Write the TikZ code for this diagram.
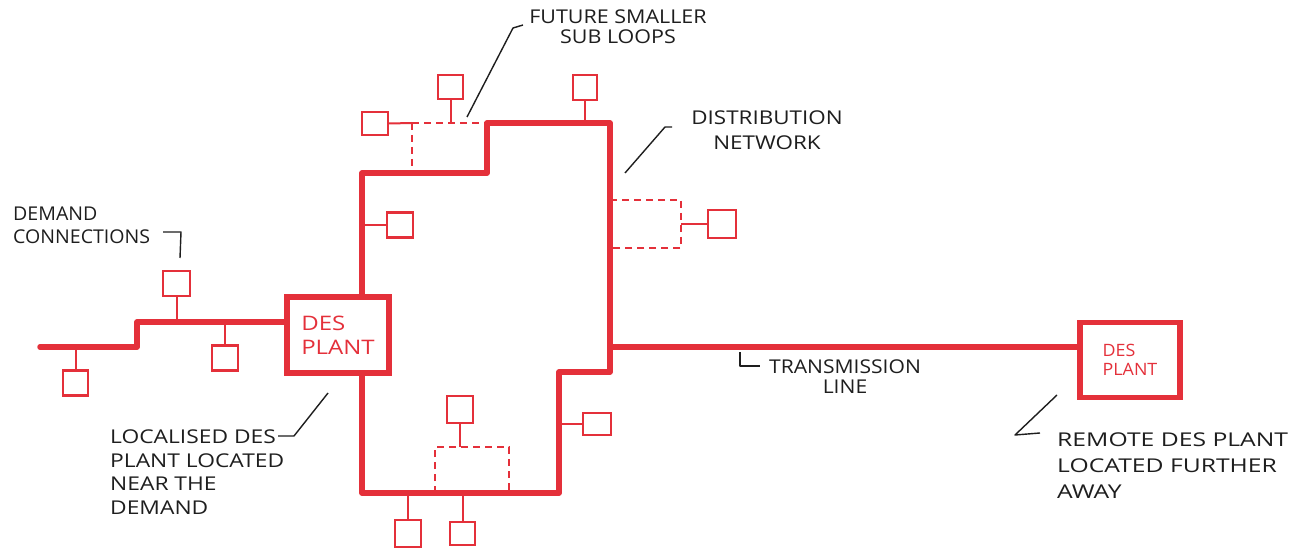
\documentclass[tikz,border=0pt]{standalone}
\usepackage{fontspec}
\setmainfont{Open Sans}
\definecolor{pen}{RGB}{228,48,58}
\definecolor{ink}{RGB}{30,30,30}
\newcommand{\strch}[1]{\addfontfeature{FakeStretch=#1}}
\tikzset{
 pipe/.style={draw=pen, line width=5.5pt, line cap=round, line join=round},
 stem/.style={draw=pen, line width=2pt},
 fut/.style={draw=pen, line width=2pt, dash pattern=on 7pt off 5pt},
 dbox/.style={draw=pen, line width=2.2pt, minimum width=26pt, minimum height=25pt, inner sep=0pt},
 plantbox/.style={draw=pen, line width=5.5pt, inner sep=0pt, fill=white, text=pen, align=left},
 lead/.style={draw=ink, line width=1.4pt, line join=round},
 lbl/.style={text=ink, inner sep=0pt},
}
\begin{document}
\begin{tikzpicture}[x=1pt,y=-1pt]
\fill[white] (0,0) rectangle (1296,553);
\useasboundingbox (0,0) rectangle (1296,553);

% plants
\node[plantbox, minimum width=102pt, minimum height=76pt, font=\fontsize{20}{24}\selectfont\strch{1.2}] (plant) at (338,335) {DES\\PLANT};
\node[plantbox, minimum width=100pt, minimum height=75pt, font=\fontsize{17}{19}\selectfont\strch{1.05}] (remote) at (1130,360) {DES\\PLANT};

% coordinates of the loop
\coordinate (lx) at (362,0);
\coordinate (a1) at (362,173);
\coordinate (a2) at (487,173);
\coordinate (a3) at (487,123);
\coordinate (a4) at (610,123);
\coordinate (tj) at (610,347);
\coordinate (a5) at (610,372);
\coordinate (a6) at (559,372);
\coordinate (a7) at (559,493);
\coordinate (a8) at (362,493);
\coordinate (f0) at (40,347);
\coordinate (f1) at (137,347);
\coordinate (f2) at (137,322);

% demand boxes
\node[dbox, minimum width=27pt] (dc1) at (176.5,283.5) {};
\node[dbox] (dc2) at (225,358) {};
\node[dbox, minimum width=25pt] (dc3) at (75.5,383) {};
\node[dbox] (lc1) at (400,225) {};
\node[dbox, minimum height=23pt] (tl) at (375,123.5) {};
\node[dbox, minimum width=25pt, minimum height=24pt] (tm) at (450.5,87) {};
\node[dbox, minimum width=24pt] (tr) at (585,87.5) {};
\node[dbox, minimum width=28pt, minimum height=28pt] (rb) at (722,224) {};
\node[dbox, minimum height=27pt] (bm) at (460,409.5) {};
\node[dbox, minimum height=27pt] (bb1) at (408,533.5) {};
\node[dbox, minimum width=25pt, minimum height=23pt] (bb2) at (462.5,533.5) {};
\node[dbox, minimum width=28pt, minimum height=22pt] (br) at (597,424) {};

% pipes
\draw[pipe] (plant.north -| lx) -- (a1) -- (a2) -- (a3) -- (a4) -- (a5) -- (a6) -- (a7) -- (a8) -- (plant.south -| lx);
\draw[pipe] (tj) -- (remote.west |- tj);
\draw[pipe] (f0) -- (f1) -- (f2) -- (plant.west |- f2);

% stems
\draw[stem] (dc1.south) -- (dc1.south |- f2);
\draw[stem] (dc2.north) -- (dc2.north |- f2);
\draw[stem] (dc3.north) -- (dc3.north |- f0);
\draw[stem] (lc1.west) -- (lc1.west -| lx);
\coordinate (s1) at (412,123);
\coordinate (s2) at (412,173);
\draw[stem] (tl.east) -- (s1);
\draw[fut] (s1) -- (a3);
\draw[fut] (s1) -- (s2);
\draw[stem] (tm.south) -- (tm.south |- s1);
\draw[stem] (tr.south) -- (tr.south |- a4);
\coordinate (r1) at (610,200);
\coordinate (r2) at (681,200);
\coordinate (r3) at (681,248);
\coordinate (r4) at (610,248);
\draw[fut] (r1) -- (r2) -- (r3) -- (r4);
\draw[stem] (rb.west) -- (rb.west -| r2);
\coordinate (b1) at (435,493);
\coordinate (b2) at (435,447);
\coordinate (b3) at (509,447);
\coordinate (b4) at (509,493);
\draw[fut] (b1) -- (b2) -- (b3) -- (b4);
\draw[stem] (bm.south) -- (bm.south |- b2);
\draw[stem] (bb1.north) -- (bb1.north |- a8);
\draw[stem] (bb2.north) -- (bb2.north |- a8);
\draw[stem] (br.west) -- (br.west -| a6);

% labels
\node[lbl, anchor=north west, align=left, font=\fontsize{19}{23}\selectfont\strch{1.03}] (tdem) at (13,207) {DEMAND\\CONNECTIONS};
\coordinate (d1) at (163,232);
\coordinate (d2) at (181,232);
\coordinate (d3) at (180,258);
\draw[lead] (d1) -- (d2) -- (d3);

\node[lbl, anchor=north, align=center, font=\fontsize{19}{20}\selectfont\strch{1.13}] (tfut) at (618,10) {FUTURE SMALLER\\SUB LOOPS};
\coordinate (u1) at (467,117);
\coordinate (u2) at (513,28);
\coordinate (u3) at (523,25);
\draw[lead] (u1) -- (u2) -- (u3);

\node[lbl, anchor=north, align=center, font=\fontsize{19}{25}\selectfont\strch{1.18}] (tdist) at (767,111) {DISTRIBUTION\\NETWORK};
\coordinate (n1) at (625,173);
\coordinate (n2) at (665,127);
\coordinate (n3) at (672,127);
\draw[lead] (n1) -- (n2) -- (n3);

\node[lbl, anchor=north west, align=left, font=\fontsize{19}{23.5}\selectfont\strch{1.2}] (tloc) at (110,430) {LOCALISED DES\\PLANT LOCATED\\NEAR THE\\DEMAND};
\coordinate (l1) at (278,436);
\coordinate (l2) at (294,436);
\coordinate (l3) at (328,393);
\draw[lead] (l1) -- (l2) -- (l3);

\node[lbl, anchor=north, align=center, font=\fontsize{19}{20}\selectfont\strch{1.11}] (ttr) at (845,360) {TRANSMISSION\\LINE};
\coordinate (t1) at (740,352);
\coordinate (t2) at (740,366);
\coordinate (t3) at (760,366);
\draw[lead] (t1) -- (t2) -- (t3);

\node[lbl, anchor=north west, align=left, font=\fontsize{19}{26}\selectfont\strch{1.3}] (trem) at (1057,433) {REMOTE DES PLANT\\LOCATED FURTHER\\AWAY};
\coordinate (m1) at (1057,395);
\coordinate (m2) at (1015,435);
\coordinate (m3) at (1040,433);
\draw[lead] (m1) -- (m2) -- (m3);
\end{tikzpicture}
\end{document}
